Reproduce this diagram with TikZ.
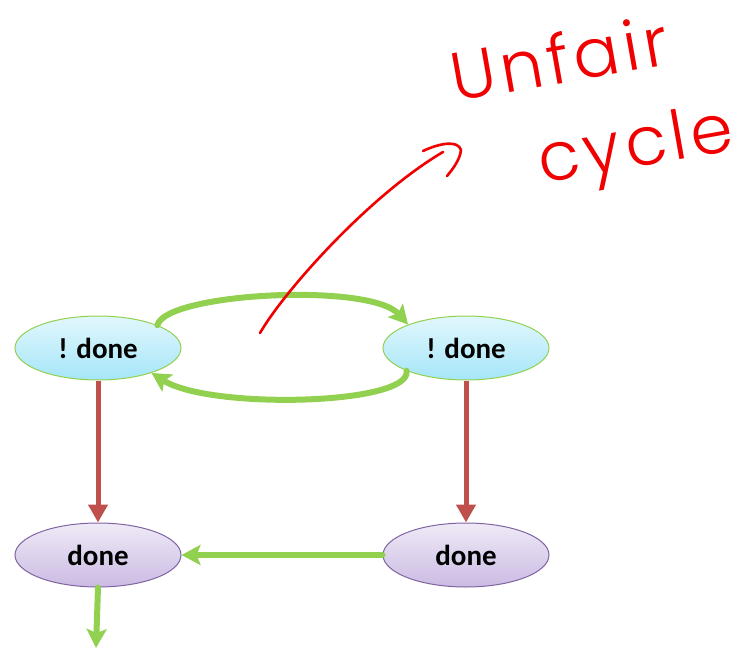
\documentclass[tikz,border=0pt]{standalone}
\usepackage{fontspec}
\setmainfont{Carlito}
\newfontfamily\handfont{Poppins}[UprightFont={* Light}, LetterSpace=7]
\usetikzlibrary{shapes.geometric,arrows.meta}

\definecolor{flowgreen}{HTML}{92D050}
\definecolor{flowred}{HTML}{C0504D}
\definecolor{inkred}{RGB}{240,0,0}
\definecolor{cyantop}{HTML}{E2F7FD}
\definecolor{cyanbot}{HTML}{A5E6F8}
\definecolor{lilactop}{HTML}{EFEAF7}
\definecolor{lilacbot}{HTML}{CBBBE3}
\definecolor{lilacedge}{HTML}{8064A2}

\tikzset{
  state/.style={ellipse, minimum width=166pt, minimum height=64pt,
    inner sep=0pt, line width=1pt,
    font=\fontsize{29}{29}\selectfont\bfseries},
  notdone/.style={state, draw=flowgreen, top color=cyantop, bottom color=cyanbot},
  donest/.style={state, draw=lilacedge, top color=lilactop, bottom color=lilacbot},
  greenarrow/.style={draw=flowgreen, line width=6pt, line cap=round,
    -{Stealth[length=19pt,width=20pt,inset=4pt]}},
  redarrow/.style={draw=flowred, line width=5pt,
    -{Triangle[length=18pt,width=19pt]}},
  ink/.style={draw=inkred, line width=2.6pt, line cap=round, line join=round},
  handtext/.style={text=inkred, inner sep=0pt,
    font=\handfont\fontsize{68}{68}\selectfont, rotate=10}
}

\begin{document}
\begin{tikzpicture}[x=1pt,y=-1pt]
\useasboundingbox (0,0) rectangle (745,650);

% states
\node[notdone] (tl) at (98,348) {! done};
\node[notdone] (tr) at (466,348) {! done};
\node[donest]  (bl) at (98,555) {done};
\node[donest]  (br) at (466,555) {done};
\coordinate (out) at (96,648);

% the cycle between the two "! done" states
\draw[greenarrow] (tl.21) .. controls (165,293) and (370,282) .. (tr.158);
\draw[greenarrow] (tr.201) .. controls (412,405) and (210,410) .. (tl.-25);

% transitions to "done"
\draw[redarrow] (tl.south) -- (bl.north);
\draw[redarrow] (tr.south) -- (br.north);
\draw[greenarrow] (br.west) -- (bl.east);
\draw[greenarrow] (bl.south) -- (out);

% handwritten annotation
\coordinate (inkstart) at (260,333);
\coordinate (inkend) at (443,152);
\draw[ink] (inkstart) .. controls (285,290) and (370,195) .. (inkend);
\draw[ink] (423,151) .. controls (440,143) and (458,140) .. (461,150)
           .. controls (460,160) and (452,170) .. (447,176);
\node[handtext, anchor=base west] (unfair) at (455,102) {Unfair};
\node[handtext, anchor=base west] (cyc) at (542,184) {cycle};
\end{tikzpicture}
\end{document}
